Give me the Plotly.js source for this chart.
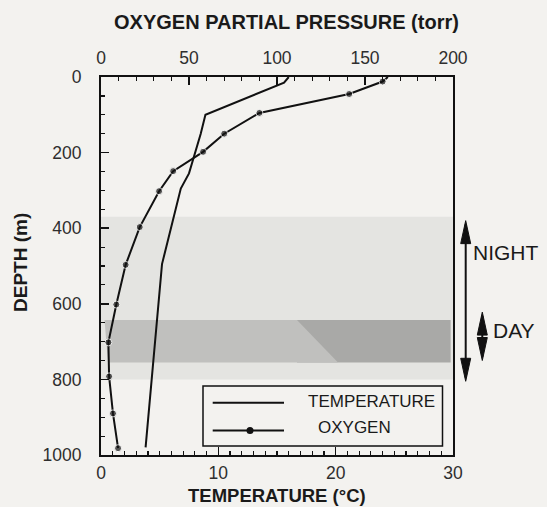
<!DOCTYPE html>
<html>
<head>
<meta charset="utf-8">
<script src="https://cdn.plot.ly/plotly-3.0.1.min.js"></script>
<style>
html,body{margin:0;padding:0;background:#f3f2ef;}
#chart{width:547px;height:507px;}
</style>
</head>
<body>
<div id="chart"></div>
<script>
// ---- data ----
var tempDepth = [0, 15, 100, 150, 255, 295, 495, 980];
var tempValues = [16.0, 15.6, 8.9, 8.5, 7.5, 6.8, 5.2, 3.8];

var oxyDepth = [0, 12, 45, 95, 150, 198, 249, 302, 397, 497, 602, 702, 792, 890, 982];
var oxyValues = [163, 160, 141, 90, 70, 58, 41, 33, 22, 14, 8.7, 4.2, 4.6, 6.8, 9.7];

var tempTicks = [0, 10, 20, 30];
var oxyTicks = [0, 50, 100, 150, 200];
var depthTicks = [0, 200, 400, 600, 800, 1000];

var nightBand = [370, 800];      // light grey depth band
var dayBand = [643, 755];        // dark grey depth band
var stippleEdge = [16.7, 20.2];  // right edge of stippled part (deg C, top/bottom)
var nightArrow = [380, 805];
var dayArrow = [622, 750];

var seriesNames = ['TEMPERATURE', 'OXYGEN'];

// ---- chart ----
var FONT = 'Liberation Sans, Arial, Helvetica, sans-serif';
var INK = '#111';

var traces = [
  {x: tempValues, y: tempDepth, xaxis: 'x', yaxis: 'y', mode: 'lines',
   line: {color: INK, width: 2}, showlegend: false, hoverinfo: 'skip'},
  {x: oxyValues, y: oxyDepth, xaxis: 'x2', yaxis: 'y', mode: 'lines+markers',
   line: {color: INK, width: 2},
   marker: {color: INK, size: oxyDepth.map(function(d, i){ return i === 0 ? 0 : 7; })},
   showlegend: false, hoverinfo: 'skip'}
];

// pixel helpers for the hand-made legend / arrows (paper coords)
var L = 101, R = 94, T = 77, B = 52, W = 547, H = 507;
var pw = W - L - R, ph = H - T - B;
function px(x){ return (x - L) / pw; }
function py(y){ return 1 - (y - T) / ph; }

var shapes = [
  // light night band
  {type: 'rect', xref: 'x', yref: 'y', x0: 0, x1: 30, y0: nightBand[0], y1: nightBand[1],
   fillcolor: '#e4e4e1', line: {width: 0}, layer: 'below'},
  // dark solid part of day band
  {type: 'rect', xref: 'x', yref: 'y', x0: stippleEdge[0], x1: 29.8, y0: dayBand[0], y1: dayBand[1],
   fillcolor: '#a9a9a7', line: {width: 0}, layer: 'below'},
  // stippled part of day band
  {type: 'path', xref: 'x', yref: 'y', layer: 'below', line: {width: 0}, fillcolor: '#c0c0be',
   path: 'M0.3,' + dayBand[0] + ' L' + stippleEdge[0] + ',' + dayBand[0] +
         ' L' + stippleEdge[1] + ',' + dayBand[1] + ' L0.6,' + dayBand[1] + ' Z'}
];

function arrow(xp, d0, d1){
  var hw = 5 / pw, hl = 23 * 1000 / ph;
  return [
    {type: 'line', xref: 'paper', yref: 'y', x0: xp, x1: xp, y0: d0 + 10, y1: d1 - 10,
     line: {color: INK, width: 2}},
    {type: 'path', xref: 'paper', yref: 'y', fillcolor: INK, line: {color: INK, width: 1},
     path: 'M' + xp + ',' + d0 + ' L' + (xp - hw) + ',' + (d0 + hl) + ' L' + (xp + hw) + ',' + (d0 + hl) + ' Z'},
    {type: 'path', xref: 'paper', yref: 'y', fillcolor: INK, line: {color: INK, width: 1},
     path: 'M' + xp + ',' + d1 + ' L' + (xp - hw) + ',' + (d1 - hl) + ' L' + (xp + hw) + ',' + (d1 - hl) + ' Z'}
  ];
}
shapes = shapes.concat(arrow(px(465.7), nightArrow[0], nightArrow[1]));
shapes = shapes.concat(arrow(px(482.3), dayArrow[0], dayArrow[1]));

// legend box
shapes.push({type: 'rect', xref: 'paper', yref: 'paper', x0: px(203), x1: px(442.5), y0: py(446), y1: py(386),
  line: {color: INK, width: 1.5}, fillcolor: 'rgba(0,0,0,0)'});
shapes.push({type: 'line', xref: 'paper', yref: 'paper', x0: px(212.7), x1: px(284), y0: py(402.7), y1: py(402.7),
  line: {color: INK, width: 2}});
shapes.push({type: 'line', xref: 'paper', yref: 'paper', x0: px(212.7), x1: px(284), y0: py(430.5), y1: py(430.5),
  line: {color: INK, width: 2}});
shapes.push({type: 'circle', xref: 'paper', yref: 'paper', x0: px(246.5), x1: px(253.5), y0: py(434), y1: py(427),
  fillcolor: INK, line: {color: INK, width: 0}});

var annotations = [
  {text: '<b>OXYGEN PARTIAL PRESSURE (torr)</b>', xref: 'paper', yref: 'paper', x: px(286), y: py(22),
   showarrow: false, font: {family: FONT, size: 20, color: '#1a1a1a'}, xanchor: 'center', yanchor: 'middle'},
  {text: '<b>TEMPERATURE (°C)</b>', xref: 'paper', yref: 'paper', x: px(277), y: py(496),
   showarrow: false, font: {family: FONT, size: 18.5, color: '#1a1a1a'}, xanchor: 'center', yanchor: 'middle'},
  {text: '<b>DEPTH (m)</b>', xref: 'paper', yref: 'paper', x: px(20), y: py(263), textangle: -90,
   showarrow: false, font: {family: FONT, size: 19, color: '#1a1a1a'}, xanchor: 'center', yanchor: 'middle'},
  {text: 'NIGHT', xref: 'paper', yref: 'paper', x: px(471), y: py(252), xanchor: 'left', yanchor: 'middle',
   showarrow: false, font: {family: FONT, size: 21, color: '#1a1a1a'}},
  {text: 'DAY', xref: 'paper', yref: 'paper', x: px(491), y: py(330), xanchor: 'left', yanchor: 'middle',
   showarrow: false, font: {family: FONT, size: 21, color: '#1a1a1a'}},
  {text: seriesNames[0], xref: 'paper', yref: 'paper', x: px(306), y: py(401.5), xanchor: 'left', yanchor: 'middle',
   showarrow: false, font: {family: FONT, size: 17, color: '#1a1a1a'}},
  {text: seriesNames[1], xref: 'paper', yref: 'paper', x: px(316), y: py(427), xanchor: 'left', yanchor: 'middle',
   showarrow: false, font: {family: FONT, size: 17, color: '#1a1a1a'}}
];

var tickFont = {family: FONT, size: 17.5, color: '#2e2e2e'};

var layout = {
  width: W, height: H,
  margin: {l: L, r: R, t: T, b: B, pad: 0},
  paper_bgcolor: '#f3f2ef', plot_bgcolor: '#f3f2ef',
  showlegend: false,
  xaxis: {range: [0, 30], tickvals: tempTicks, ticktext: tempTicks.map(String),
    ticks: 'inside', ticklen: 8, tickwidth: 1.5, tickcolor: INK,
    minor: {dtick: 1, ticks: 'inside', ticklen: 4, tickwidth: 1.2, tickcolor: INK, showgrid: false},
    showline: true, linecolor: INK, linewidth: 2, showgrid: false, zeroline: false,
    tickfont: tickFont, ticklabelstandoff: 1},
  xaxis2: {range: [0, 200], overlaying: 'x', side: 'top', anchor: 'y',
    tickvals: oxyTicks, ticktext: oxyTicks.map(String),
    ticks: 'inside', ticklen: 8, tickwidth: 1.5, tickcolor: INK,
    minor: {dtick: 10, ticks: 'inside', ticklen: 4, tickwidth: 1.2, tickcolor: INK, showgrid: false},
    showline: true, linecolor: INK, linewidth: 2, showgrid: false, zeroline: false,
    tickfont: tickFont, ticklabelstandoff: 4},
  yaxis: {range: [1000, 0], tickvals: depthTicks, ticktext: depthTicks.map(String),
    ticks: 'inside', ticklen: 8, tickwidth: 1.5, tickcolor: INK,
    minor: {dtick: 50, ticks: 'inside', ticklen: 4, tickwidth: 1.2, tickcolor: INK, showgrid: false},
    showline: true, mirror: true, linecolor: INK, linewidth: 2, showgrid: false, zeroline: false,
    tickfont: tickFont, ticklabelstandoff: 14},
  shapes: shapes,
  annotations: annotations
};

Plotly.newPlot('chart', traces, layout, {staticPlot: true, displayModeBar: false});
</script>
</body>
</html>
